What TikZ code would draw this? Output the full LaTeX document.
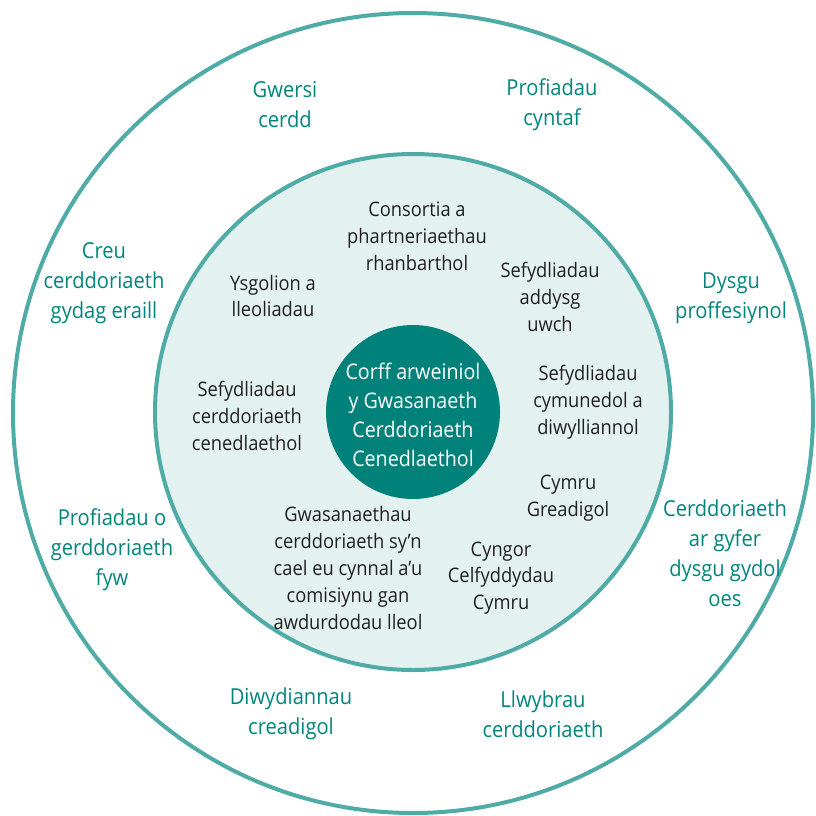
\documentclass[tikz,border=0pt]{standalone}
\usepackage{fontspec}
\setmainfont[FakeStretch=0.915]{Open Sans}
\definecolor{ringline}{HTML}{4FABA5}
\definecolor{innerfill}{HTML}{E4F1F1}
\definecolor{corefill}{HTML}{00827A}
\definecolor{outertext}{HTML}{00857D}
\definecolor{innertext}{HTML}{231F20}
\tikzset{
  outerlbl/.style={align=center, text=outertext, font=\fontsize{22}{30}\selectfont, inner sep=0pt},
  innerlbl/.style={align=center, text=innertext, font=\fontsize{20}{26.8}\selectfont, inner sep=0pt},
  corelbl/.style={align=center, text=white, font=\fontsize{21.5}{29}\selectfont, inner sep=0pt},
}
\begin{document}
\begin{tikzpicture}[x=1pt,y=-1pt]
\useasboundingbox (0,0) rectangle (815,816);
\node[circle, draw=ringline, line width=4pt, minimum size=800pt, inner sep=0pt] (outer) at (413,413) {};
\node[circle, draw=ringline, fill=innerfill, line width=4pt, minimum size=516pt, inner sep=0pt] (inner) at (413,412) {};
\node[circle, fill=corefill, minimum size=174pt, inner sep=0pt] (core) at (413,412) {};
\node[corelbl] (corett) at (413,415) {Corff arweiniol\\y Gwasanaeth\\Cerddoriaeth\\Cenedlaethol};
% outer ring labels
\node[outerlbl] (o1) at (285,105) {Gwersi\\cerdd};
\node[outerlbl] (o2) at (552,105) {Profiadau\\cyntaf};
\node[outerlbl] (o3) at (104,283) {Creu\\cerddoriaeth\\gydag eraill};
\node[outerlbl] (o4) at (731,298) {Dysgu\\proffesiynol};
\node[outerlbl] (o5) at (112,550) {Profiadau o\\gerddoriaeth\\fyw};
\node[outerlbl] (o6) at (725,553) {Cerddoriaeth\\ar gyfer\\dysgu gydol\\oes};
\node[outerlbl] (o7) at (291,714) {Diwydiannau\\creadigol};
\node[outerlbl] (o8) at (543,714) {Llwybrau\\cerddoriaeth};
% inner ring labels
\node[innerlbl] (i1) at (417,236) {Consortia a\\phartneriaethau\\rhanbarthol};
\node[innerlbl] (i2) at (273,296) {Ysgolion a\\lleoliadau};
\node[innerlbl] (i3) at (550,297) {Sefydliadau\\addysg\\uwch};
\node[innerlbl] (i4) at (247,416) {Sefydliadau\\cerddoriaeth\\cenedlaethol};
\node[innerlbl] (i5) at (588,402) {Sefydliadau\\cymunedol a\\diwylliannol};
\node[innerlbl] (i6) at (568,498) {Cymru\\Greadigol};
\node[innerlbl] (i7) at (348,568) {Gwasanaethau\\cerddoriaeth sy’n\\cael eu cynnal a’u\\comisiynu gan\\awdurdodau lleol};
\node[innerlbl] (i8) at (501,578) {Cyngor\\Celfyddydau\\Cymru};
\end{tikzpicture}
\end{document}
